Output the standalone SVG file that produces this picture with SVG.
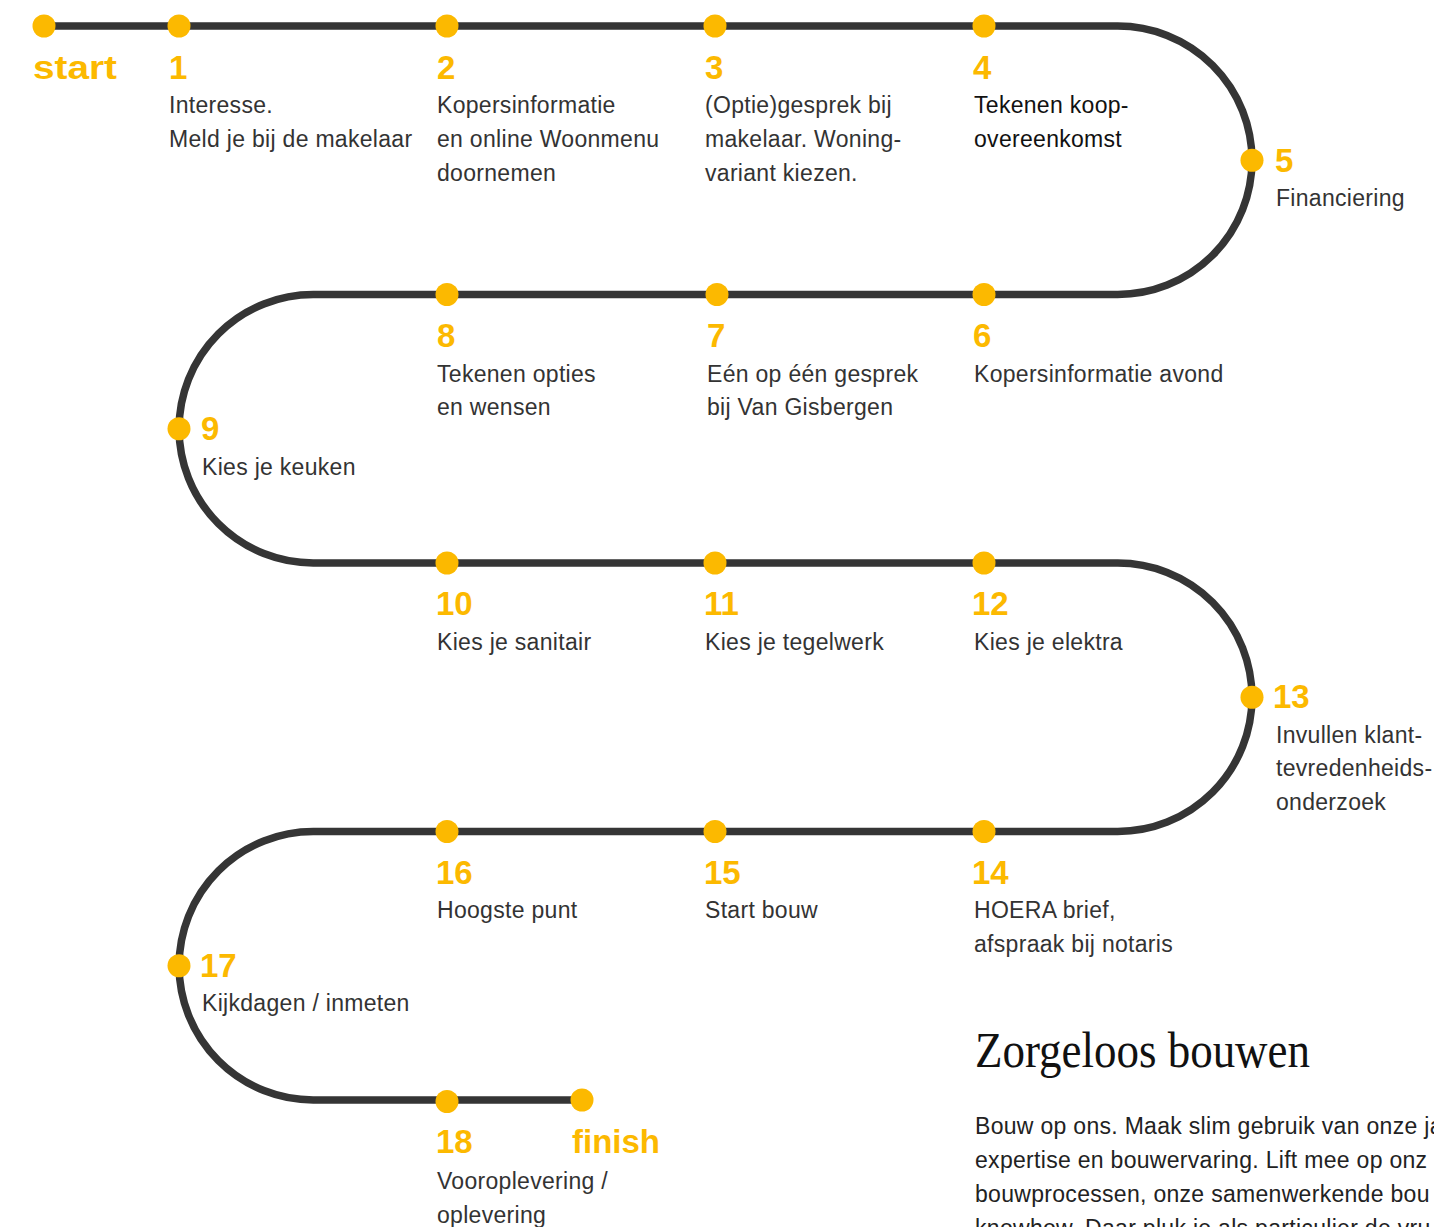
<svg xmlns="http://www.w3.org/2000/svg" width="1434" height="1227" viewBox="0 0 1434 1227">
<style>
.track{fill:none;stroke:#353535;stroke-width:7.5}
.dot{fill:#FCB900}
.num{font-family:"Liberation Sans",Arial,sans-serif;font-weight:bold;font-size:33px;fill:#FCB900}
.txt{font-family:"Liberation Sans",Arial,sans-serif;font-size:23px;letter-spacing:0.3px;fill:#333333}
.dark{fill:#111111}
.title{font-family:"Liberation Serif","Times New Roman",serif;font-size:50px;fill:#111111}
.para{font-family:"Liberation Sans",Arial,sans-serif;font-size:23px;letter-spacing:0.3px;fill:#222222}
</style>
<rect width="1434" height="1227" fill="#ffffff"/>
<g id="connectors">
<path class="track" d="M44,26 H1117.75 A134.25,134.25 0 0 1 1117.75,294.5 H313.25 A134.25,134.25 0 0 0 313.25,563 H1117.75 A134.25,134.25 0 0 1 1117.75,831.5 H313.25 A134.25,134.25 0 0 0 313.25,1100 H582"/>
</g>
<g id="node-start"><circle class="dot" cx="44" cy="26" r="11.5"/><text class="num" x="33" y="79" textLength="84" lengthAdjust="spacingAndGlyphs">start</text></g>
<g id="node-1"><circle class="dot" cx="179" cy="26" r="11.5"/><text class="num" x="169" y="79">1</text><text class="txt" x="169" y="113">Interesse.</text><text class="txt" x="169" y="147">Meld je bij de makelaar</text></g>
<g id="node-2"><circle class="dot" cx="447" cy="26" r="11.5"/><text class="num" x="437" y="79">2</text><text class="txt" x="437" y="113">Kopersinformatie</text><text class="txt" x="437" y="147">en online Woonmenu</text><text class="txt" x="437" y="181">doornemen</text></g>
<g id="node-3"><circle class="dot" cx="715" cy="26" r="11.5"/><text class="num" x="705" y="79">3</text><text class="txt" x="705" y="113">(Optie)gesprek bij</text><text class="txt" x="705" y="147">makelaar. Woning-</text><text class="txt" x="705" y="181">variant kiezen.</text></g>
<g id="node-4"><circle class="dot" cx="984" cy="26" r="11.5"/><text class="num" x="973" y="79">4</text><text class="txt dark" x="974" y="113">Tekenen koop-</text><text class="txt dark" x="974" y="147">overeenkomst</text></g>
<g id="node-5"><circle class="dot" cx="1252" cy="160.25" r="11.5"/><text class="num" x="1275" y="172">5</text><text class="txt" x="1276" y="206">Financiering</text></g>
<g id="node-6"><circle class="dot" cx="984" cy="294.5" r="11.5"/><text class="num" x="973" y="347">6</text><text class="txt" x="974" y="382">Kopersinformatie avond</text></g>
<g id="node-7"><circle class="dot" cx="717" cy="294.5" r="11.5"/><text class="num" x="707" y="347">7</text><text class="txt" x="707" y="382">Eén op één gesprek</text><text class="txt" x="707" y="415">bij Van Gisbergen</text></g>
<g id="node-8"><circle class="dot" cx="447" cy="294.5" r="11.5"/><text class="num" x="437" y="347">8</text><text class="txt" x="437" y="382">Tekenen opties</text><text class="txt" x="437" y="415">en wensen</text></g>
<g id="node-9"><circle class="dot" cx="179" cy="428.75" r="11.5"/><text class="num" x="201" y="440">9</text><text class="txt" x="202" y="475">Kies je keuken</text></g>
<g id="node-10"><circle class="dot" cx="447" cy="563" r="11.5"/><text class="num" x="436" y="615">10</text><text class="txt" x="437" y="650">Kies je sanitair</text></g>
<g id="node-11"><circle class="dot" cx="715" cy="563" r="11.5"/><text class="num" x="704" y="615">11</text><text class="txt" x="705" y="650">Kies je tegelwerk</text></g>
<g id="node-12"><circle class="dot" cx="984" cy="563" r="11.5"/><text class="num" x="972" y="615">12</text><text class="txt" x="974" y="650">Kies je elektra</text></g>
<g id="node-13"><circle class="dot" cx="1252" cy="697.25" r="11.5"/><text class="num" x="1273" y="708">13</text><text class="txt" x="1276" y="743">Invullen klant-</text><text class="txt" x="1276" y="776">tevredenheids-</text><text class="txt" x="1276" y="810">onderzoek</text></g>
<g id="node-14"><circle class="dot" cx="984" cy="831.5" r="11.5"/><text class="num" x="972" y="884">14</text><text class="txt" x="974" y="918">HOERA brief,</text><text class="txt" x="974" y="952">afspraak bij notaris</text></g>
<g id="node-15"><circle class="dot" cx="715" cy="831.5" r="11.5"/><text class="num" x="704" y="884">15</text><text class="txt" x="705" y="918">Start bouw</text></g>
<g id="node-16"><circle class="dot" cx="447" cy="831.5" r="11.5"/><text class="num" x="436" y="884">16</text><text class="txt" x="437" y="918">Hoogste punt</text></g>
<g id="node-17"><circle class="dot" cx="179" cy="965.75" r="11.5"/><text class="num" x="200" y="977">17</text><text class="txt" x="202" y="1011">Kijkdagen / inmeten</text></g>
<g id="node-18"><circle class="dot" cx="447" cy="1101.5" r="11.5"/><text class="num" x="436" y="1153">18</text><text class="txt" x="437" y="1189">Vooroplevering /</text><text class="txt" x="437" y="1223">oplevering</text></g>
<g id="node-finish"><circle class="dot" cx="582" cy="1100" r="11.5"/><text class="num" x="572" y="1153">finish</text></g>
<g id="intro">
<text class="title" x="975" y="1067" textLength="335" lengthAdjust="spacingAndGlyphs">Zorgeloos bouwen</text>
<text class="para" x="975" y="1134">Bouw op ons. Maak slim gebruik van onze ja</text>
<text class="para" x="975" y="1168">expertise en bouwervaring. Lift mee op onz</text>
<text class="para" x="975" y="1202">bouwprocessen, onze samenwerkende bou</text>
<text class="para" x="975" y="1236">knowhow. Daar pluk je als particulier de vru</text>
</g>
</svg>
